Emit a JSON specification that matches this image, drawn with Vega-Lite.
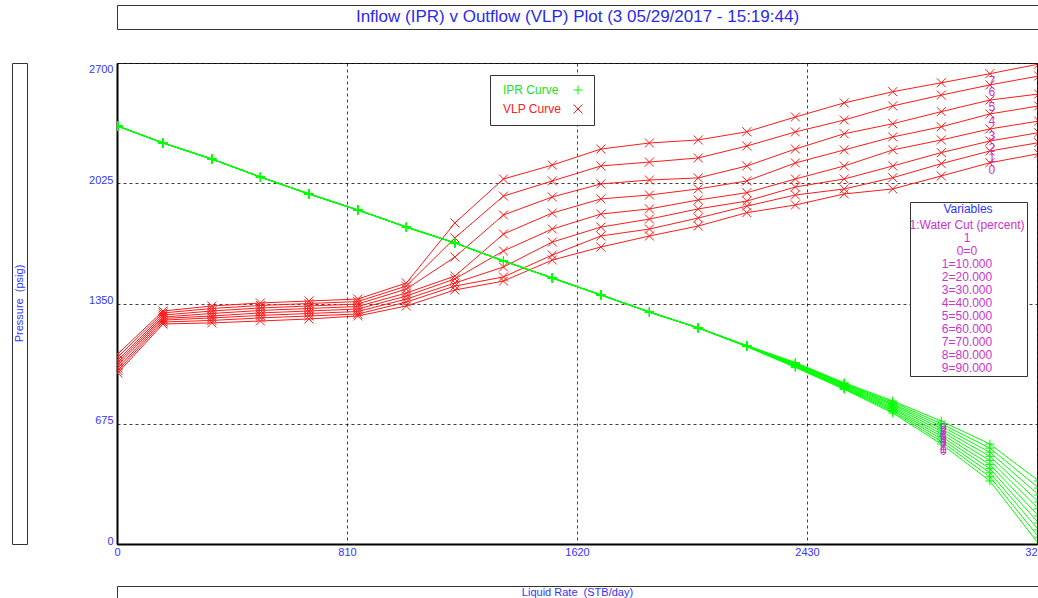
{
  "$schema": "https://vega.github.io/schema/vega-lite/v6.json",
  "background": "white",
  "padding": {"left": 11, "top": 4, "right": 0, "bottom": 0},
  "config": {
    "font": "Liberation Sans",
    "view": {"stroke": null},
    "legend": {"labelFont": "Liberation Sans", "titleFont": "Liberation Sans"}
  },
  "datasets": {
    "vars": [
      {"v": "1:Water Cut (percent)"}, {"v": "1"}, {"v": "0=0"}, {"v": "1=10.000"}, {"v": "2=20.000"}, {"v": "3=30.000"},
      {"v": "4=40.000"}, {"v": "5=50.000"}, {"v": "6=60.000"}, {"v": "7=70.000"}, {"v": "8=80.000"}, {"v": "9=90.000"}
    ],
    "curves": [
      {"curve":"VLP Curve","case":0,"rate":3,"p":960},{"curve":"VLP Curve","case":0,"rate":162,"p":1235},{"curve":"VLP Curve","case":0,"rate":334,"p":1241},{"curve":"VLP Curve","case":0,"rate":505,"p":1252},{"curve":"VLP Curve","case":0,"rate":676,"p":1263},{"curve":"VLP Curve","case":0,"rate":848,"p":1280},{"curve":"VLP Curve","case":0,"rate":1019,"p":1336},{"curve":"VLP Curve","case":0,"rate":1190,"p":1426},{"curve":"VLP Curve","case":0,"rate":1361,"p":1476},{"curve":"VLP Curve","case":0,"rate":1533,"p":1594},{"curve":"VLP Curve","case":0,"rate":1704,"p":1667},{"curve":"VLP Curve","case":0,"rate":1875,"p":1729},{"curve":"VLP Curve","case":0,"rate":2047,"p":1785},{"curve":"VLP Curve","case":0,"rate":2218,"p":1860},{"curve":"VLP Curve","case":0,"rate":2389,"p":1903},{"curve":"VLP Curve","case":0,"rate":2561,"p":1965},{"curve":"VLP Curve","case":0,"rate":2732,"p":1993},{"curve":"VLP Curve","case":0,"rate":2903,"p":2066},{"curve":"VLP Curve","case":0,"rate":3074,"p":2140},{"curve":"VLP Curve","case":0,"rate":3246,"p":2191},
      {"curve":"VLP Curve","case":1,"rate":3,"p":974},{"curve":"VLP Curve","case":1,"rate":162,"p":1246},{"curve":"VLP Curve","case":1,"rate":334,"p":1255},{"curve":"VLP Curve","case":1,"rate":505,"p":1269},{"curve":"VLP Curve","case":1,"rate":676,"p":1280},{"curve":"VLP Curve","case":1,"rate":848,"p":1291},{"curve":"VLP Curve","case":1,"rate":1019,"p":1358},{"curve":"VLP Curve","case":1,"rate":1190,"p":1448},{"curve":"VLP Curve","case":1,"rate":1361,"p":1499},{"curve":"VLP Curve","case":1,"rate":1533,"p":1622},{"curve":"VLP Curve","case":1,"rate":1704,"p":1729},{"curve":"VLP Curve","case":1,"rate":1875,"p":1768},{"curve":"VLP Curve","case":1,"rate":2047,"p":1830},{"curve":"VLP Curve","case":1,"rate":2218,"p":1897},{"curve":"VLP Curve","case":1,"rate":2389,"p":1959},{"curve":"VLP Curve","case":1,"rate":2561,"p":1993},{"curve":"VLP Curve","case":1,"rate":2732,"p":2056},{"curve":"VLP Curve","case":1,"rate":2903,"p":2135},{"curve":"VLP Curve","case":1,"rate":3074,"p":2206},{"curve":"VLP Curve","case":1,"rate":3246,"p":2253},
      {"curve":"VLP Curve","case":2,"rate":3,"p":988},{"curve":"VLP Curve","case":2,"rate":162,"p":1257},{"curve":"VLP Curve","case":2,"rate":334,"p":1269},{"curve":"VLP Curve","case":2,"rate":505,"p":1283},{"curve":"VLP Curve","case":2,"rate":676,"p":1294},{"curve":"VLP Curve","case":2,"rate":848,"p":1305},{"curve":"VLP Curve","case":2,"rate":1019,"p":1375},{"curve":"VLP Curve","case":2,"rate":1190,"p":1465},{"curve":"VLP Curve","case":2,"rate":1361,"p":1555},{"curve":"VLP Curve","case":2,"rate":1533,"p":1695},{"curve":"VLP Curve","case":2,"rate":1704,"p":1779},{"curve":"VLP Curve","case":2,"rate":1875,"p":1824},{"curve":"VLP Curve","case":2,"rate":2047,"p":1881},{"curve":"VLP Curve","case":2,"rate":2218,"p":1925},{"curve":"VLP Curve","case":2,"rate":2389,"p":2004},{"curve":"VLP Curve","case":2,"rate":2561,"p":2049},{"curve":"VLP Curve","case":2,"rate":2732,"p":2122},{"curve":"VLP Curve","case":2,"rate":2903,"p":2197},{"curve":"VLP Curve","case":2,"rate":3074,"p":2262},{"curve":"VLP Curve","case":2,"rate":3246,"p":2309},
      {"curve":"VLP Curve","case":3,"rate":3,"p":1005},{"curve":"VLP Curve","case":3,"rate":162,"p":1266},{"curve":"VLP Curve","case":3,"rate":334,"p":1280},{"curve":"VLP Curve","case":3,"rate":505,"p":1297},{"curve":"VLP Curve","case":3,"rate":676,"p":1308},{"curve":"VLP Curve","case":3,"rate":848,"p":1319},{"curve":"VLP Curve","case":3,"rate":1019,"p":1392},{"curve":"VLP Curve","case":3,"rate":1190,"p":1488},{"curve":"VLP Curve","case":3,"rate":1361,"p":1645},{"curve":"VLP Curve","case":3,"rate":1533,"p":1768},{"curve":"VLP Curve","case":3,"rate":1704,"p":1852},{"curve":"VLP Curve","case":3,"rate":1875,"p":1881},{"curve":"VLP Curve","case":3,"rate":2047,"p":1931},{"curve":"VLP Curve","case":3,"rate":2218,"p":1972},{"curve":"VLP Curve","case":3,"rate":2389,"p":2049},{"curve":"VLP Curve","case":3,"rate":2561,"p":2122},{"curve":"VLP Curve","case":3,"rate":2732,"p":2212},{"curve":"VLP Curve","case":3,"rate":2903,"p":2268},{"curve":"VLP Curve","case":3,"rate":3074,"p":2330},{"curve":"VLP Curve","case":3,"rate":3246,"p":2374},
      {"curve":"VLP Curve","case":4,"rate":3,"p":1019},{"curve":"VLP Curve","case":4,"rate":162,"p":1274},{"curve":"VLP Curve","case":4,"rate":334,"p":1294},{"curve":"VLP Curve","case":4,"rate":505,"p":1311},{"curve":"VLP Curve","case":4,"rate":676,"p":1322},{"curve":"VLP Curve","case":4,"rate":848,"p":1333},{"curve":"VLP Curve","case":4,"rate":1019,"p":1409},{"curve":"VLP Curve","case":4,"rate":1190,"p":1504},{"curve":"VLP Curve","case":4,"rate":1361,"p":1740},{"curve":"VLP Curve","case":4,"rate":1533,"p":1858},{"curve":"VLP Curve","case":4,"rate":1704,"p":1937},{"curve":"VLP Curve","case":4,"rate":1875,"p":1959},{"curve":"VLP Curve","case":4,"rate":2047,"p":1993},{"curve":"VLP Curve","case":4,"rate":2218,"p":2038},{"curve":"VLP Curve","case":4,"rate":2389,"p":2139},{"curve":"VLP Curve","case":4,"rate":2561,"p":2212},{"curve":"VLP Curve","case":4,"rate":2732,"p":2285},{"curve":"VLP Curve","case":4,"rate":2903,"p":2342},{"curve":"VLP Curve","case":4,"rate":3074,"p":2414},{"curve":"VLP Curve","case":4,"rate":3246,"p":2459},
      {"curve":"VLP Curve","case":5,"rate":3,"p":1033},{"curve":"VLP Curve","case":5,"rate":162,"p":1285},{"curve":"VLP Curve","case":5,"rate":334,"p":1308},{"curve":"VLP Curve","case":5,"rate":505,"p":1325},{"curve":"VLP Curve","case":5,"rate":676,"p":1336},{"curve":"VLP Curve","case":5,"rate":848,"p":1347},{"curve":"VLP Curve","case":5,"rate":1019,"p":1431},{"curve":"VLP Curve","case":5,"rate":1190,"p":1611},{"curve":"VLP Curve","case":5,"rate":1361,"p":1847},{"curve":"VLP Curve","case":5,"rate":1533,"p":1948},{"curve":"VLP Curve","case":5,"rate":1704,"p":2021},{"curve":"VLP Curve","case":5,"rate":1875,"p":2043},{"curve":"VLP Curve","case":5,"rate":2047,"p":2055},{"curve":"VLP Curve","case":5,"rate":2218,"p":2122},{"curve":"VLP Curve","case":5,"rate":2389,"p":2217},{"curve":"VLP Curve","case":5,"rate":2561,"p":2303},{"curve":"VLP Curve","case":5,"rate":2732,"p":2359},{"curve":"VLP Curve","case":5,"rate":2903,"p":2427},{"curve":"VLP Curve","case":5,"rate":3074,"p":2492},{"curve":"VLP Curve","case":5,"rate":3246,"p":2526},
      {"curve":"VLP Curve","case":6,"rate":3,"p":1050},{"curve":"VLP Curve","case":6,"rate":162,"p":1297},{"curve":"VLP Curve","case":6,"rate":334,"p":1322},{"curve":"VLP Curve","case":6,"rate":505,"p":1339},{"curve":"VLP Curve","case":6,"rate":676,"p":1350},{"curve":"VLP Curve","case":6,"rate":848,"p":1361},{"curve":"VLP Curve","case":6,"rate":1019,"p":1448},{"curve":"VLP Curve","case":6,"rate":1190,"p":1718},{"curve":"VLP Curve","case":6,"rate":1361,"p":1953},{"curve":"VLP Curve","case":6,"rate":1533,"p":2038},{"curve":"VLP Curve","case":6,"rate":1704,"p":2122},{"curve":"VLP Curve","case":6,"rate":1875,"p":2144},{"curve":"VLP Curve","case":6,"rate":2047,"p":2167},{"curve":"VLP Curve","case":6,"rate":2218,"p":2234},{"curve":"VLP Curve","case":6,"rate":2389,"p":2313},{"curve":"VLP Curve","case":6,"rate":2561,"p":2380},{"curve":"VLP Curve","case":6,"rate":2732,"p":2459},{"curve":"VLP Curve","case":6,"rate":2903,"p":2520},{"curve":"VLP Curve","case":6,"rate":3074,"p":2577},{"curve":"VLP Curve","case":6,"rate":3246,"p":2627},
      {"curve":"VLP Curve","case":7,"rate":3,"p":1067},{"curve":"VLP Curve","case":7,"rate":162,"p":1308},{"curve":"VLP Curve","case":7,"rate":334,"p":1336},{"curve":"VLP Curve","case":7,"rate":505,"p":1353},{"curve":"VLP Curve","case":7,"rate":676,"p":1364},{"curve":"VLP Curve","case":7,"rate":848,"p":1375},{"curve":"VLP Curve","case":7,"rate":1019,"p":1465},{"curve":"VLP Curve","case":7,"rate":1190,"p":1802},{"curve":"VLP Curve","case":7,"rate":1361,"p":2049},{"curve":"VLP Curve","case":7,"rate":1533,"p":2127},{"curve":"VLP Curve","case":7,"rate":1704,"p":2217},{"curve":"VLP Curve","case":7,"rate":1875,"p":2251},{"curve":"VLP Curve","case":7,"rate":2047,"p":2268},{"curve":"VLP Curve","case":7,"rate":2218,"p":2314},{"curve":"VLP Curve","case":7,"rate":2389,"p":2397},{"curve":"VLP Curve","case":7,"rate":2561,"p":2476},{"curve":"VLP Curve","case":7,"rate":2732,"p":2539},{"curve":"VLP Curve","case":7,"rate":2903,"p":2589},{"curve":"VLP Curve","case":7,"rate":3074,"p":2640},{"curve":"VLP Curve","case":7,"rate":3246,"p":2694},
      {"curve":"IPR Curve","case":0,"rate":3,"p":2346},{"curve":"IPR Curve","case":0,"rate":162,"p":2251},{"curve":"IPR Curve","case":0,"rate":334,"p":2161},{"curve":"IPR Curve","case":0,"rate":505,"p":2060},{"curve":"IPR Curve","case":0,"rate":676,"p":1965},{"curve":"IPR Curve","case":0,"rate":848,"p":1875},{"curve":"IPR Curve","case":0,"rate":1019,"p":1779},{"curve":"IPR Curve","case":0,"rate":1190,"p":1690},{"curve":"IPR Curve","case":0,"rate":1361,"p":1589},{"curve":"IPR Curve","case":0,"rate":1533,"p":1493},{"curve":"IPR Curve","case":0,"rate":1704,"p":1398},{"curve":"IPR Curve","case":0,"rate":1875,"p":1302},{"curve":"IPR Curve","case":0,"rate":2047,"p":1213},{"curve":"IPR Curve","case":0,"rate":2218,"p":1108},{"curve":"IPR Curve","case":0,"rate":2389,"p":991},{"curve":"IPR Curve","case":0,"rate":2561,"p":868},{"curve":"IPR Curve","case":0,"rate":2732,"p":735},{"curve":"IPR Curve","case":0,"rate":2903,"p":561},{"curve":"IPR Curve","case":0,"rate":3074,"p":354},{"curve":"IPR Curve","case":0,"rate":3246,"p":0},
      {"curve":"IPR Curve","case":1,"rate":3,"p":2346},{"curve":"IPR Curve","case":1,"rate":162,"p":2251},{"curve":"IPR Curve","case":1,"rate":334,"p":2161},{"curve":"IPR Curve","case":1,"rate":505,"p":2060},{"curve":"IPR Curve","case":1,"rate":676,"p":1965},{"curve":"IPR Curve","case":1,"rate":848,"p":1875},{"curve":"IPR Curve","case":1,"rate":1019,"p":1779},{"curve":"IPR Curve","case":1,"rate":1190,"p":1690},{"curve":"IPR Curve","case":1,"rate":1361,"p":1589},{"curve":"IPR Curve","case":1,"rate":1533,"p":1493},{"curve":"IPR Curve","case":1,"rate":1704,"p":1398},{"curve":"IPR Curve","case":1,"rate":1875,"p":1302},{"curve":"IPR Curve","case":1,"rate":2047,"p":1213},{"curve":"IPR Curve","case":1,"rate":2218,"p":1109},{"curve":"IPR Curve","case":1,"rate":2389,"p":994},{"curve":"IPR Curve","case":1,"rate":2561,"p":872},{"curve":"IPR Curve","case":1,"rate":2732,"p":743},{"curve":"IPR Curve","case":1,"rate":2903,"p":575},{"curve":"IPR Curve","case":1,"rate":3074,"p":377},{"curve":"IPR Curve","case":1,"rate":3246,"p":39},
      {"curve":"IPR Curve","case":2,"rate":3,"p":2346},{"curve":"IPR Curve","case":2,"rate":162,"p":2251},{"curve":"IPR Curve","case":2,"rate":334,"p":2161},{"curve":"IPR Curve","case":2,"rate":505,"p":2060},{"curve":"IPR Curve","case":2,"rate":676,"p":1965},{"curve":"IPR Curve","case":2,"rate":848,"p":1875},{"curve":"IPR Curve","case":2,"rate":1019,"p":1779},{"curve":"IPR Curve","case":2,"rate":1190,"p":1690},{"curve":"IPR Curve","case":2,"rate":1361,"p":1589},{"curve":"IPR Curve","case":2,"rate":1533,"p":1493},{"curve":"IPR Curve","case":2,"rate":1704,"p":1398},{"curve":"IPR Curve","case":2,"rate":1875,"p":1302},{"curve":"IPR Curve","case":2,"rate":2047,"p":1213},{"curve":"IPR Curve","case":2,"rate":2218,"p":1109},{"curve":"IPR Curve","case":2,"rate":2389,"p":997},{"curve":"IPR Curve","case":2,"rate":2561,"p":876},{"curve":"IPR Curve","case":2,"rate":2732,"p":750},{"curve":"IPR Curve","case":2,"rate":2903,"p":590},{"curve":"IPR Curve","case":2,"rate":3074,"p":400},{"curve":"IPR Curve","case":2,"rate":3246,"p":79},
      {"curve":"IPR Curve","case":3,"rate":3,"p":2346},{"curve":"IPR Curve","case":3,"rate":162,"p":2251},{"curve":"IPR Curve","case":3,"rate":334,"p":2161},{"curve":"IPR Curve","case":3,"rate":505,"p":2060},{"curve":"IPR Curve","case":3,"rate":676,"p":1965},{"curve":"IPR Curve","case":3,"rate":848,"p":1875},{"curve":"IPR Curve","case":3,"rate":1019,"p":1779},{"curve":"IPR Curve","case":3,"rate":1190,"p":1690},{"curve":"IPR Curve","case":3,"rate":1361,"p":1589},{"curve":"IPR Curve","case":3,"rate":1533,"p":1493},{"curve":"IPR Curve","case":3,"rate":1704,"p":1398},{"curve":"IPR Curve","case":3,"rate":1875,"p":1302},{"curve":"IPR Curve","case":3,"rate":2047,"p":1213},{"curve":"IPR Curve","case":3,"rate":2218,"p":1110},{"curve":"IPR Curve","case":3,"rate":2389,"p":1000},{"curve":"IPR Curve","case":3,"rate":2561,"p":880},{"curve":"IPR Curve","case":3,"rate":2732,"p":758},{"curve":"IPR Curve","case":3,"rate":2903,"p":604},{"curve":"IPR Curve","case":3,"rate":3074,"p":423},{"curve":"IPR Curve","case":3,"rate":3246,"p":118},
      {"curve":"IPR Curve","case":4,"rate":3,"p":2346},{"curve":"IPR Curve","case":4,"rate":162,"p":2251},{"curve":"IPR Curve","case":4,"rate":334,"p":2161},{"curve":"IPR Curve","case":4,"rate":505,"p":2060},{"curve":"IPR Curve","case":4,"rate":676,"p":1965},{"curve":"IPR Curve","case":4,"rate":848,"p":1875},{"curve":"IPR Curve","case":4,"rate":1019,"p":1779},{"curve":"IPR Curve","case":4,"rate":1190,"p":1690},{"curve":"IPR Curve","case":4,"rate":1361,"p":1589},{"curve":"IPR Curve","case":4,"rate":1533,"p":1493},{"curve":"IPR Curve","case":4,"rate":1704,"p":1398},{"curve":"IPR Curve","case":4,"rate":1875,"p":1302},{"curve":"IPR Curve","case":4,"rate":2047,"p":1213},{"curve":"IPR Curve","case":4,"rate":2218,"p":1111},{"curve":"IPR Curve","case":4,"rate":2389,"p":1003},{"curve":"IPR Curve","case":4,"rate":2561,"p":884},{"curve":"IPR Curve","case":4,"rate":2732,"p":765},{"curve":"IPR Curve","case":4,"rate":2903,"p":618},{"curve":"IPR Curve","case":4,"rate":3074,"p":446},{"curve":"IPR Curve","case":4,"rate":3246,"p":157},
      {"curve":"IPR Curve","case":5,"rate":3,"p":2346},{"curve":"IPR Curve","case":5,"rate":162,"p":2251},{"curve":"IPR Curve","case":5,"rate":334,"p":2161},{"curve":"IPR Curve","case":5,"rate":505,"p":2060},{"curve":"IPR Curve","case":5,"rate":676,"p":1965},{"curve":"IPR Curve","case":5,"rate":848,"p":1875},{"curve":"IPR Curve","case":5,"rate":1019,"p":1779},{"curve":"IPR Curve","case":5,"rate":1190,"p":1690},{"curve":"IPR Curve","case":5,"rate":1361,"p":1589},{"curve":"IPR Curve","case":5,"rate":1533,"p":1493},{"curve":"IPR Curve","case":5,"rate":1704,"p":1398},{"curve":"IPR Curve","case":5,"rate":1875,"p":1302},{"curve":"IPR Curve","case":5,"rate":2047,"p":1213},{"curve":"IPR Curve","case":5,"rate":2218,"p":1111},{"curve":"IPR Curve","case":5,"rate":2389,"p":1007},{"curve":"IPR Curve","case":5,"rate":2561,"p":889},{"curve":"IPR Curve","case":5,"rate":2732,"p":773},{"curve":"IPR Curve","case":5,"rate":2903,"p":633},{"curve":"IPR Curve","case":5,"rate":3074,"p":469},{"curve":"IPR Curve","case":5,"rate":3246,"p":197},
      {"curve":"IPR Curve","case":6,"rate":3,"p":2346},{"curve":"IPR Curve","case":6,"rate":162,"p":2251},{"curve":"IPR Curve","case":6,"rate":334,"p":2161},{"curve":"IPR Curve","case":6,"rate":505,"p":2060},{"curve":"IPR Curve","case":6,"rate":676,"p":1965},{"curve":"IPR Curve","case":6,"rate":848,"p":1875},{"curve":"IPR Curve","case":6,"rate":1019,"p":1779},{"curve":"IPR Curve","case":6,"rate":1190,"p":1690},{"curve":"IPR Curve","case":6,"rate":1361,"p":1589},{"curve":"IPR Curve","case":6,"rate":1533,"p":1493},{"curve":"IPR Curve","case":6,"rate":1704,"p":1398},{"curve":"IPR Curve","case":6,"rate":1875,"p":1302},{"curve":"IPR Curve","case":6,"rate":2047,"p":1213},{"curve":"IPR Curve","case":6,"rate":2218,"p":1112},{"curve":"IPR Curve","case":6,"rate":2389,"p":1010},{"curve":"IPR Curve","case":6,"rate":2561,"p":893},{"curve":"IPR Curve","case":6,"rate":2732,"p":781},{"curve":"IPR Curve","case":6,"rate":2903,"p":647},{"curve":"IPR Curve","case":6,"rate":3074,"p":492},{"curve":"IPR Curve","case":6,"rate":3246,"p":236},
      {"curve":"IPR Curve","case":7,"rate":3,"p":2346},{"curve":"IPR Curve","case":7,"rate":162,"p":2251},{"curve":"IPR Curve","case":7,"rate":334,"p":2161},{"curve":"IPR Curve","case":7,"rate":505,"p":2060},{"curve":"IPR Curve","case":7,"rate":676,"p":1965},{"curve":"IPR Curve","case":7,"rate":848,"p":1875},{"curve":"IPR Curve","case":7,"rate":1019,"p":1779},{"curve":"IPR Curve","case":7,"rate":1190,"p":1690},{"curve":"IPR Curve","case":7,"rate":1361,"p":1589},{"curve":"IPR Curve","case":7,"rate":1533,"p":1493},{"curve":"IPR Curve","case":7,"rate":1704,"p":1398},{"curve":"IPR Curve","case":7,"rate":1875,"p":1302},{"curve":"IPR Curve","case":7,"rate":2047,"p":1213},{"curve":"IPR Curve","case":7,"rate":2218,"p":1113},{"curve":"IPR Curve","case":7,"rate":2389,"p":1013},{"curve":"IPR Curve","case":7,"rate":2561,"p":897},{"curve":"IPR Curve","case":7,"rate":2732,"p":788},{"curve":"IPR Curve","case":7,"rate":2903,"p":661},{"curve":"IPR Curve","case":7,"rate":3074,"p":515},{"curve":"IPR Curve","case":7,"rate":3246,"p":275},
      {"curve":"IPR Curve","case":8,"rate":3,"p":2346},{"curve":"IPR Curve","case":8,"rate":162,"p":2251},{"curve":"IPR Curve","case":8,"rate":334,"p":2161},{"curve":"IPR Curve","case":8,"rate":505,"p":2060},{"curve":"IPR Curve","case":8,"rate":676,"p":1965},{"curve":"IPR Curve","case":8,"rate":848,"p":1875},{"curve":"IPR Curve","case":8,"rate":1019,"p":1779},{"curve":"IPR Curve","case":8,"rate":1190,"p":1690},{"curve":"IPR Curve","case":8,"rate":1361,"p":1589},{"curve":"IPR Curve","case":8,"rate":1533,"p":1493},{"curve":"IPR Curve","case":8,"rate":1704,"p":1398},{"curve":"IPR Curve","case":8,"rate":1875,"p":1302},{"curve":"IPR Curve","case":8,"rate":2047,"p":1213},{"curve":"IPR Curve","case":8,"rate":2218,"p":1113},{"curve":"IPR Curve","case":8,"rate":2389,"p":1016},{"curve":"IPR Curve","case":8,"rate":2561,"p":901},{"curve":"IPR Curve","case":8,"rate":2732,"p":796},{"curve":"IPR Curve","case":8,"rate":2903,"p":675},{"curve":"IPR Curve","case":8,"rate":3074,"p":538},{"curve":"IPR Curve","case":8,"rate":3246,"p":314},
      {"curve":"IPR Curve","case":9,"rate":3,"p":2346},{"curve":"IPR Curve","case":9,"rate":162,"p":2251},{"curve":"IPR Curve","case":9,"rate":334,"p":2161},{"curve":"IPR Curve","case":9,"rate":505,"p":2060},{"curve":"IPR Curve","case":9,"rate":676,"p":1965},{"curve":"IPR Curve","case":9,"rate":848,"p":1875},{"curve":"IPR Curve","case":9,"rate":1019,"p":1779},{"curve":"IPR Curve","case":9,"rate":1190,"p":1690},{"curve":"IPR Curve","case":9,"rate":1361,"p":1589},{"curve":"IPR Curve","case":9,"rate":1533,"p":1493},{"curve":"IPR Curve","case":9,"rate":1704,"p":1398},{"curve":"IPR Curve","case":9,"rate":1875,"p":1302},{"curve":"IPR Curve","case":9,"rate":2047,"p":1213},{"curve":"IPR Curve","case":9,"rate":2218,"p":1114},{"curve":"IPR Curve","case":9,"rate":2389,"p":1019},{"curve":"IPR Curve","case":9,"rate":2561,"p":905},{"curve":"IPR Curve","case":9,"rate":2732,"p":803},{"curve":"IPR Curve","case":9,"rate":2903,"p":690},{"curve":"IPR Curve","case":9,"rate":3074,"p":561},{"curve":"IPR Curve","case":9,"rate":3246,"p":354}
    ]
  },
  "hconcat": [
    {
      "vconcat": [
        {"width": 15, "height": 24, "data": {"values": [{"t": ""}]}, "mark": {"type": "text"}, "encoding": {"text": {"field": "t"}}},
        {
          "width": 15, "height": 481,
          "view": {"stroke": "#333", "strokeWidth": 1},
          "data": {"values": [{"t": "Pressure\u00a0 (psig)"}]},
          "mark": {"type": "text", "angle": 270, "fontSize": 11, "color": "#3333ff", "baseline": "middle"},
          "encoding": {"text": {"field": "t"}}
        }
      ],
      "spacing": 34, "bounds": "flush"
    },
    {
      "vconcat": [
        {
          "width": 921, "height": 24,
          "view": {"stroke": "#333", "strokeWidth": 1},
          "data": {"values": [{"t": "Inflow (IPR) v Outflow (VLP) Plot (3 05/29/2017 - 15:19:44)"}]},
          "mark": {"type": "text", "fontSize": 17, "color": "#2a2aee", "baseline": "middle"},
          "encoding": {"text": {"field": "t"}}
        },
        {
          "vconcat": [
            {
              "width": 920, "height": 481,
              "view": {"stroke": "#222", "strokeWidth": 1},
              "layer": [
                {
                  "data": {"name": "curves"},
                  "mark": {"type": "line", "strokeWidth": 1, "clip": true},
                  "encoding": {
                    "x": {"field": "rate", "type": "quantitative", "scale": {"domain": [0, 3240], "nice": false, "zero": false},
                      "axis": {"values": [0, 810, 1620, 2430, 3240], "title": null, "grid": true, "gridColor": "#000", "gridDash": [3, 3], "gridOpacity": 0.75,
                        "domainColor": "#000", "domainWidth": 2, "ticks": false, "labelColor": "#3333ff", "labelFontSize": 11, "labelPadding": 2, "labelFlush": false, "format": "d"}},
                    "y": {"field": "p", "type": "quantitative", "scale": {"domain": [0, 2700], "nice": false},
                      "axis": {"values": [0, 675, 1350, 2025, 2700], "title": null, "grid": true, "gridColor": "#000", "gridDash": [3, 3], "gridOpacity": 0.75,
                        "domainColor": "#000", "domainWidth": 2, "ticks": false, "labelColor": "#3333ff", "labelFontSize": 11, "labelPadding": 4,
                        "labelBaseline": {"condition": {"test": "datum.value == 2700", "value": "top"}, "value": "alphabetic"}, "labelFlush": false, "format": "d"}},
                    "color": {"field": "curve", "type": "nominal", "scale": {"domain": ["IPR Curve", "VLP Curve"], "range": ["#00ff00", "#ff1a1a"]},
                      "legend": {"orient": "none", "legendX": 478, "legendY": 70, "title": null, "padding": 9, "strokeColor": "#333", "fillColor": "#fff",
                        "labelFontSize": 12, "rowPadding": 5, "symbolSize": 81, "symbolStrokeWidth": 1,
                        "encode": {"labels": {"update": {"x": {"value": 4}, "fill": {"signal": "datum.value == 'IPR Curve' ? '#22dd22' : '#ff2020'"}}},
                                   "symbols": {"update": {"x": {"value": 79}}}}}},
                    "detail": {"field": "case"},
                    "order": {"field": "rate", "type": "quantitative"}
                  }
                },
                {
                  "data": {"name": "curves"},
                  "mark": {"type": "point", "filled": false, "strokeWidth": 1, "size": 81, "opacity": 1, "clip": true},
                  "encoding": {
                    "x": {"field": "rate", "type": "quantitative"},
                    "y": {"field": "p", "type": "quantitative"},
                    "color": {"field": "curve", "type": "nominal",
                      "legend": {"orient": "none", "legendX": 478, "legendY": 70, "title": null, "padding": 9, "strokeColor": "#333", "fillColor": "#fff",
                        "labelFontSize": 12, "rowPadding": 5, "symbolSize": 81, "symbolStrokeWidth": 1,
                        "encode": {"labels": {"update": {"x": {"value": 4}, "fill": {"signal": "datum.value == 'IPR Curve' ? '#22dd22' : '#ff2020'"}}},
                                   "symbols": {"update": {"x": {"value": 79}}}}}},
                    "shape": {"field": "curve", "type": "nominal",
                      "scale": {"domain": ["IPR Curve", "VLP Curve"], "range": ["M-1,0H1M0,-1V1", "M-1,-1L1,1M-1,1L1,-1"]},
                      "legend": {"orient": "none", "legendX": 478, "legendY": 70, "title": null, "padding": 9, "strokeColor": "#333", "fillColor": "#fff",
                        "labelFontSize": 12, "rowPadding": 5, "symbolSize": 81, "symbolStrokeWidth": 1,
                        "encode": {"labels": {"update": {"x": {"value": 4}, "fill": {"signal": "datum.value == 'IPR Curve' ? '#22dd22' : '#ff2020'"}}},
                                   "symbols": {"update": {"x": {"value": 79}}}}}}
                  }
                },
                {
                  "data": {"name": "curves"},
                  "transform": [{"filter": "(datum.curve == 'VLP Curve' && datum.rate == 3074) || (datum.curve == 'IPR Curve' && datum.rate == 2903)"}],
                  "mark": {"type": "text", "color": "#cc33cc", "fontSize": 12, "dx": 2, "dy": 7, "baseline": "middle", "align": "center", "clip": true},
                  "encoding": {
                    "x": {"field": "rate", "type": "quantitative"},
                    "y": {"field": "p", "type": "quantitative"},
                    "text": {"field": "case"}
                  }
                },
                {
                  "data": {"name": "vars"},
                  "mark": {"type": "point", "size": 0, "filled": true},
                  "encoding": {
                    "fill": {"field": "v", "type": "nominal", "sort": null, "scale": {"range": ["transparent"]},
                      "legend": {"orient": "none", "legendX": 898, "legendY": 197, "title": "Variables", "titleColor": "#3333ff", "titleFontSize": 12,
                        "titleFontWeight": "normal", "titleAnchor": "middle", "titlePadding": 3, "labelColor": "#cc33cc", "labelFontSize": 12,
                        "labelAlign": "center", "labelOffset": 43, "labelLimit": 300, "symbolSize": 0, "symbolStrokeWidth": 0,
                        "rowPadding": 1, "padding": 2, "strokeColor": "#333", "fillColor": "#fff"}}
                  }
                }
              ]
            },
            {
              "width": 921, "height": 14,
              "view": {"stroke": "#333", "strokeWidth": 1},
              "data": {"values": [{"t": "Liquid Rate\u00a0 (STB/day)"}]},
              "mark": {"type": "text", "fontSize": 11, "color": "#3333ff", "baseline": "middle"},
              "encoding": {"text": {"field": "t"}}
            }
          ],
          "spacing": 42, "bounds": "flush"
        }
      ],
      "spacing": 34, "bounds": "flush"
    }
  ],
  "spacing": 105, "bounds": "flush"
}
